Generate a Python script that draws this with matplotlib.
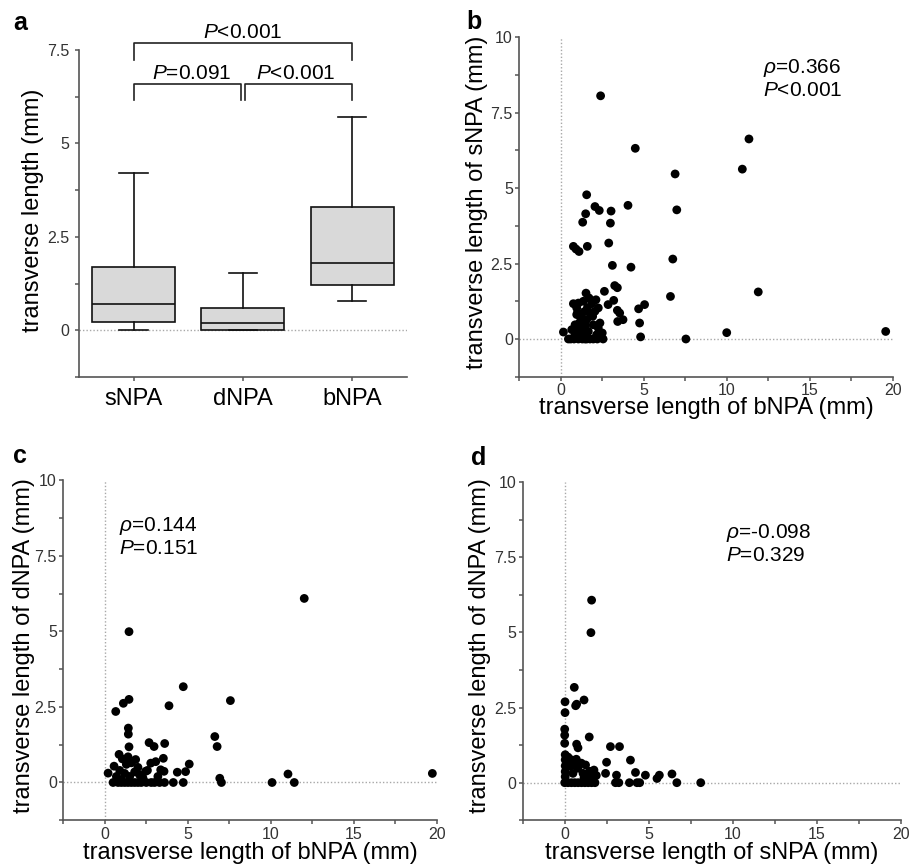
import matplotlib
matplotlib.use("Agg")
import matplotlib.pyplot as plt
from matplotlib.ticker import MultipleLocator, FuncFormatter

plt.rcParams['font.family'] = ['Liberation Sans', 'DejaVu Sans']
plt.rcParams['mathtext.fontset'] = 'custom'
plt.rcParams['mathtext.rm'] = 'Liberation Sans'
plt.rcParams['mathtext.it'] = 'Liberation Sans:italic'
plt.rcParams['mathtext.bf'] = 'Liberation Sans:bold'

# ---------------- data ----------------
# panel a: box plot summary (mm)
groups = ['sNPA', 'dNPA', 'bNPA']
box_whislo = [0.0, 0.0, 0.79]
box_q1 = [0.23, 0.0, 1.20]
box_med = [0.71, 0.20, 1.80]
box_q3 = [1.68, 0.59, 3.30]
box_whishi = [4.22, 1.53, 5.70]
p_top = 'P<0.001'
p_left = 'P=0.091'
p_right = 'P<0.001'

# panel b: bNPA (x) vs sNPA (y)
b_x = [2.40, 4.49, 11.34, 10.94, 6.89, 6.99, 1.56, 2.06, 2.32, 1.50, 1.32, 3.03, 2.99, 4.05,
       2.89, 0.76, 0.92, 1.10, 1.60, 3.11, 4.23, 6.75, 6.61, 11.90, 10.00, 19.58, 7.54, 4.81,
       4.75, 4.69, 5.05, 3.25, 3.41, 2.63, 3.19, 2.85, 3.41, 3.55, 3.43, 3.75,
       0.16, 0.60, 1.06, 1.56, 1.76, 2.55, 2.50, 2.26, 2.36, 0.76, 0.96, 1.06, 1.36, 1.52,
       1.70, 1.86, 2.12, 2.26, 1.00, 1.12, 1.26, 1.56, 1.76, 1.92, 1.96, 0.66, 0.86, 1.36,
       1.66, 0.86, 1.16, 1.46, 1.96, 2.16, 0.46, 2.06, 0.96, 1.60, 0.80, 1.30, 2.20, 1.20,
       1.40, 1.10, 1.50]
b_y = [8.06, 6.32, 6.63, 5.63, 5.47, 4.28, 4.78, 4.39, 4.26, 4.15, 3.87, 4.24, 3.84, 4.43,
       3.18, 3.07, 2.98, 2.90, 3.07, 2.44, 2.38, 2.65, 1.41, 1.56, 0.21, 0.25, 0.00, 0.07,
       0.53, 1.00, 1.14, 1.77, 1.70, 1.58, 1.28, 1.14, 0.95, 0.86, 0.58, 0.64,
       0.23, 0.00, 0.00, 0.00, 0.00, 0.00, 0.20, 0.36, 0.53, 1.17, 0.81, 1.19, 1.25, 1.52,
       1.36, 1.17, 1.30, 1.03, 0.86, 0.53, 0.36, 0.64, 0.86, 0.75, 0.47, 0.31, 0.47, 0.20,
       0.25, 0.14, 0.09, 0.00, 0.00, 0.14, 0.00, 0.92, 1.03, 1.03, 0.00, 0.00, 0.00, 0.70,
       0.90, 0.30, 0.45]

# panel c: bNPA (x) vs dNPA (y)
c_x = [12.02, 1.46, 4.73, 7.57, 3.87, 0.66, 1.12, 1.46, 1.42, 1.42, 1.46, 2.67, 2.97, 3.61,
       6.63, 6.77, 6.93, 7.03, 10.08, 11.04, 11.42, 19.74, 5.09, 4.87, 4.37, 4.13, 4.73,
       3.53, 3.37, 2.77, 3.07, 2.57, 0.20, 0.86, 0.56, 1.06, 1.86, 2.46, 3.57, 1.30, 1.60,
       0.90, 1.20, 1.50, 1.80, 2.10, 2.30, 0.70, 1.00, 3.20, 2.00, 1.40,
       0.50, 0.80, 1.00, 1.20, 1.40, 1.60, 1.80, 2.00, 2.20, 2.50, 2.80, 3.00, 3.30, 3.60]
c_y = [6.09, 4.99, 3.17, 2.71, 2.54, 2.35, 2.62, 2.75, 1.80, 1.60, 1.18, 1.32, 1.19, 1.29,
       1.52, 1.19, 0.14, 0.00, 0.00, 0.28, 0.00, 0.30, 0.61, 0.36, 0.34, 0.00, 0.00,
       0.80, 0.42, 0.64, 0.69, 0.40, 0.31, 0.93, 0.54, 0.78, 0.76, 0.37, 0.37, 0.60, 0.65,
       0.40, 0.30, 0.20, 0.35, 0.25, 0.15, 0.20, 0.10, 0.20, 0.50, 0.85,
       0.00, 0.00, 0.00, 0.00, 0.00, 0.00, 0.00, 0.00, 0.00, 0.00, 0.00, 0.00, 0.00, 0.00]

# panel d: sNPA (x) vs dNPA (y)
d_x = [1.60, 1.56, 0.57, 1.15, 0.65, 0.71, 0.02, 0.02, 0.00, 0.00, 0.00, 1.46, 0.71, 0.79,
       2.72, 3.26, 3.91, 2.49, 2.43, 3.08, 4.21, 4.80, 5.49, 5.63, 6.38, 6.67, 8.09, 3.85,
       4.30, 4.46, 3.02, 3.22, 1.74, 1.74, 1.24, 1.15,
       0.03, 0.03, 0.03, 0.03, 0.03, 0.00, 0.40, 0.69, 0.99, 0.79, 0.49, 1.09, 1.48, 1.88,
       1.38, 0.30, 0.55, 0.20,
       0.20, 0.40, 0.60, 0.80, 1.00, 1.20, 1.40, 1.60, 1.80]
d_y = [6.07, 4.99, 3.17, 2.75, 2.56, 2.61, 2.69, 2.33, 1.78, 1.58, 1.31, 1.52, 1.28, 1.16,
       1.20, 1.20, 0.75, 0.68, 0.31, 0.25, 0.34, 0.25, 0.14, 0.25, 0.29, 0.00, 0.00, 0.00,
       0.00, 0.00, 0.00, 0.00, 0.25, 0.42, 0.59, 0.17,
       0.93, 0.76, 0.56, 0.37, 0.20, 0.00, 0.76, 0.78, 0.65, 0.48, 0.31, 0.31, 0.38, 0.24,
       0.15, 0.55, 0.60, 0.85,
       0.00, 0.00, 0.00, 0.00, 0.00, 0.00, 0.00, 0.00, 0.00]

stats_b = ('\u03c1=0.366', 'P<0.001')
stats_c = ('\u03c1=0.144', 'P=0.151')
stats_d = ('\u03c1=-0.098', 'P=0.329')

# ---------------- styling helpers ----------------
SPINE = '#555555'
TICKC = '#333333'
REF = '#a8a8a8'


def fmt(v, pos):
    if abs(v / 2.5 - round(v / 2.5)) < 1e-6:
        return '%g' % v
    return ''


def style_axes(ax, pad):
    for s in ['top', 'right']:
        ax.spines[s].set_visible(False)
    for s in ['left', 'bottom']:
        ax.spines[s].set_color(SPINE)
        ax.spines[s].set_linewidth(1.2)
    ax.tick_params(axis='both', direction='out', length=3.2, width=1.1, color=SPINE,
                   labelsize=11.5, labelcolor=TICKC, pad=pad)


def label_p(s):
    # italic leading symbol (rho or P), rest upright
    if s.startswith('\u03c1'):
        return r'$\mathit{\rho}$' + s[1:]
    return r'$\mathit{P}$' + s[1:]


fig = plt.figure(figsize=(9.12, 8.65), dpi=100)

# ---------------- panel a ----------------
axa = fig.add_axes([0.0866, 0.5642, 0.3596, 0.378])
stats = []
for i, g in enumerate(groups):
    stats.append(dict(label=g, whislo=box_whislo[i], q1=box_q1[i], med=box_med[i],
                      q3=box_q3[i], whishi=box_whishi[i], fliers=[]))
axa.axhline(0, color=REF, lw=1.0, ls=(0, (1, 1.5)), zorder=0)
axa.bxp(stats, positions=[0, 1, 2], widths=0.76, patch_artist=True, showfliers=False,
        boxprops=dict(facecolor='#d9d9d9', edgecolor='#111111', linewidth=1.2),
        medianprops=dict(color='#111111', linewidth=1.2),
        whiskerprops=dict(color='#111111', linewidth=1.2),
        capprops=dict(color='#111111', linewidth=1.2), capwidths=0.26)
axa.set_xlim(-0.5, 2.5)
axa.set_ylim(-1.25, 7.5)
style_axes(axa, pad=4)
axa.yaxis.set_major_locator(MultipleLocator(1.25))
axa.yaxis.set_major_formatter(FuncFormatter(fmt))
axa.set_xticks([0, 1, 2])
axa.set_xticklabels(groups)
axa.tick_params(axis='x', labelsize=17, labelcolor='black', pad=5)
axa.set_ylabel('transverse length (mm)', fontsize=17)
axa.yaxis.set_label_coords(-0.14, 0.511)
axa.yaxis.label.set_va('center')

# significance brackets
bk = dict(color='#222222', lw=1.2, clip_on=False)
axa.plot([0, 0, 2, 2], [7.24, 7.70, 7.70, 7.24], **bk)
axa.plot([0, 0, 0.985, 0.985], [6.17, 6.59, 6.59, 6.17], **bk)
axa.plot([1.015, 1.015, 2, 2], [6.17, 6.59, 6.59, 6.17], **bk)
axa.text(1.0, 7.98, label_p(p_top), ha='center', va='center', fontsize=15, clip_on=False)
axa.text(0.53, 6.88, label_p(p_left), ha='center', va='center', fontsize=15, clip_on=False)
axa.text(1.48, 6.88, label_p(p_right), ha='center', va='center', fontsize=15, clip_on=False)


# ---------------- scatter panels ----------------
def scatter_panel(rect, xs, ys, xlabel, ylabel, stat, stat_xy, ylab_x, xlab_y):
    ax = fig.add_axes(rect)
    ax.axhline(0, color=REF, lw=1.0, ls=(0, (1, 1.5)), zorder=0)
    ax.axvline(0, color=REF, lw=1.0, ls=(0, (1, 1.5)), zorder=0)
    ax.scatter(xs, ys, s=40, color='black', edgecolors='none', zorder=3)
    ax.set_xlim(-2.5, 20)
    ax.set_ylim(-1.25, 10)
    style_axes(ax, pad=1.5)
    ax.xaxis.set_major_locator(MultipleLocator(2.5))
    ax.yaxis.set_major_locator(MultipleLocator(1.25))
    ax.xaxis.set_major_formatter(FuncFormatter(lambda v, p: '%g' % v if abs(v / 5 - round(v / 5)) < 1e-6 else ''))
    ax.yaxis.set_major_formatter(FuncFormatter(fmt))
    ax.set_xlabel(xlabel, fontsize=17)
    ax.set_ylabel(ylabel, fontsize=17)
    ax.xaxis.set_label_coords(0.5, xlab_y)
    ax.xaxis.label.set_va('center')
    ax.yaxis.set_label_coords(ylab_x, 0.515)
    ax.yaxis.label.set_va('center')
    ax.text(stat_xy[0], stat_xy[1], label_p(stat[0]), ha='left', va='center', fontsize=15)
    ax.text(stat_xy[0], stat_xy[1] - 0.75, label_p(stat[1]), ha='left', va='center', fontsize=15)
    return ax


scatter_panel([0.5694, 0.5645, 0.4094, 0.3924], b_x, b_y,
              'transverse length of bNPA (mm)', 'transverse length of sNPA (mm)',
              stats_b, (12.2, 8.98), -0.112, -0.093)
scatter_panel([0.0694, 0.0517, 0.4094, 0.3931], c_x, c_y,
              'transverse length of bNPA (mm)', 'transverse length of dNPA (mm)',
              stats_c, (0.86, 8.5), -0.106, -0.096)
scatter_panel([0.5731, 0.0517, 0.4148, 0.3911], d_x, d_y,
              'transverse length of sNPA (mm)', 'transverse length of dNPA (mm)',
              stats_d, (9.6, 8.3), -0.112, -0.096)

# panel letters
for lx, ly, t in [(13, 23, 'a'), (466, 22, 'b'), (13, 456, 'c'), (471, 458, 'd')]:
    fig.text(lx / 912, 1 - ly / 865, t, fontsize=18, fontweight='bold', ha='left', va='center')

fig.savefig('out.png', dpi=100)
